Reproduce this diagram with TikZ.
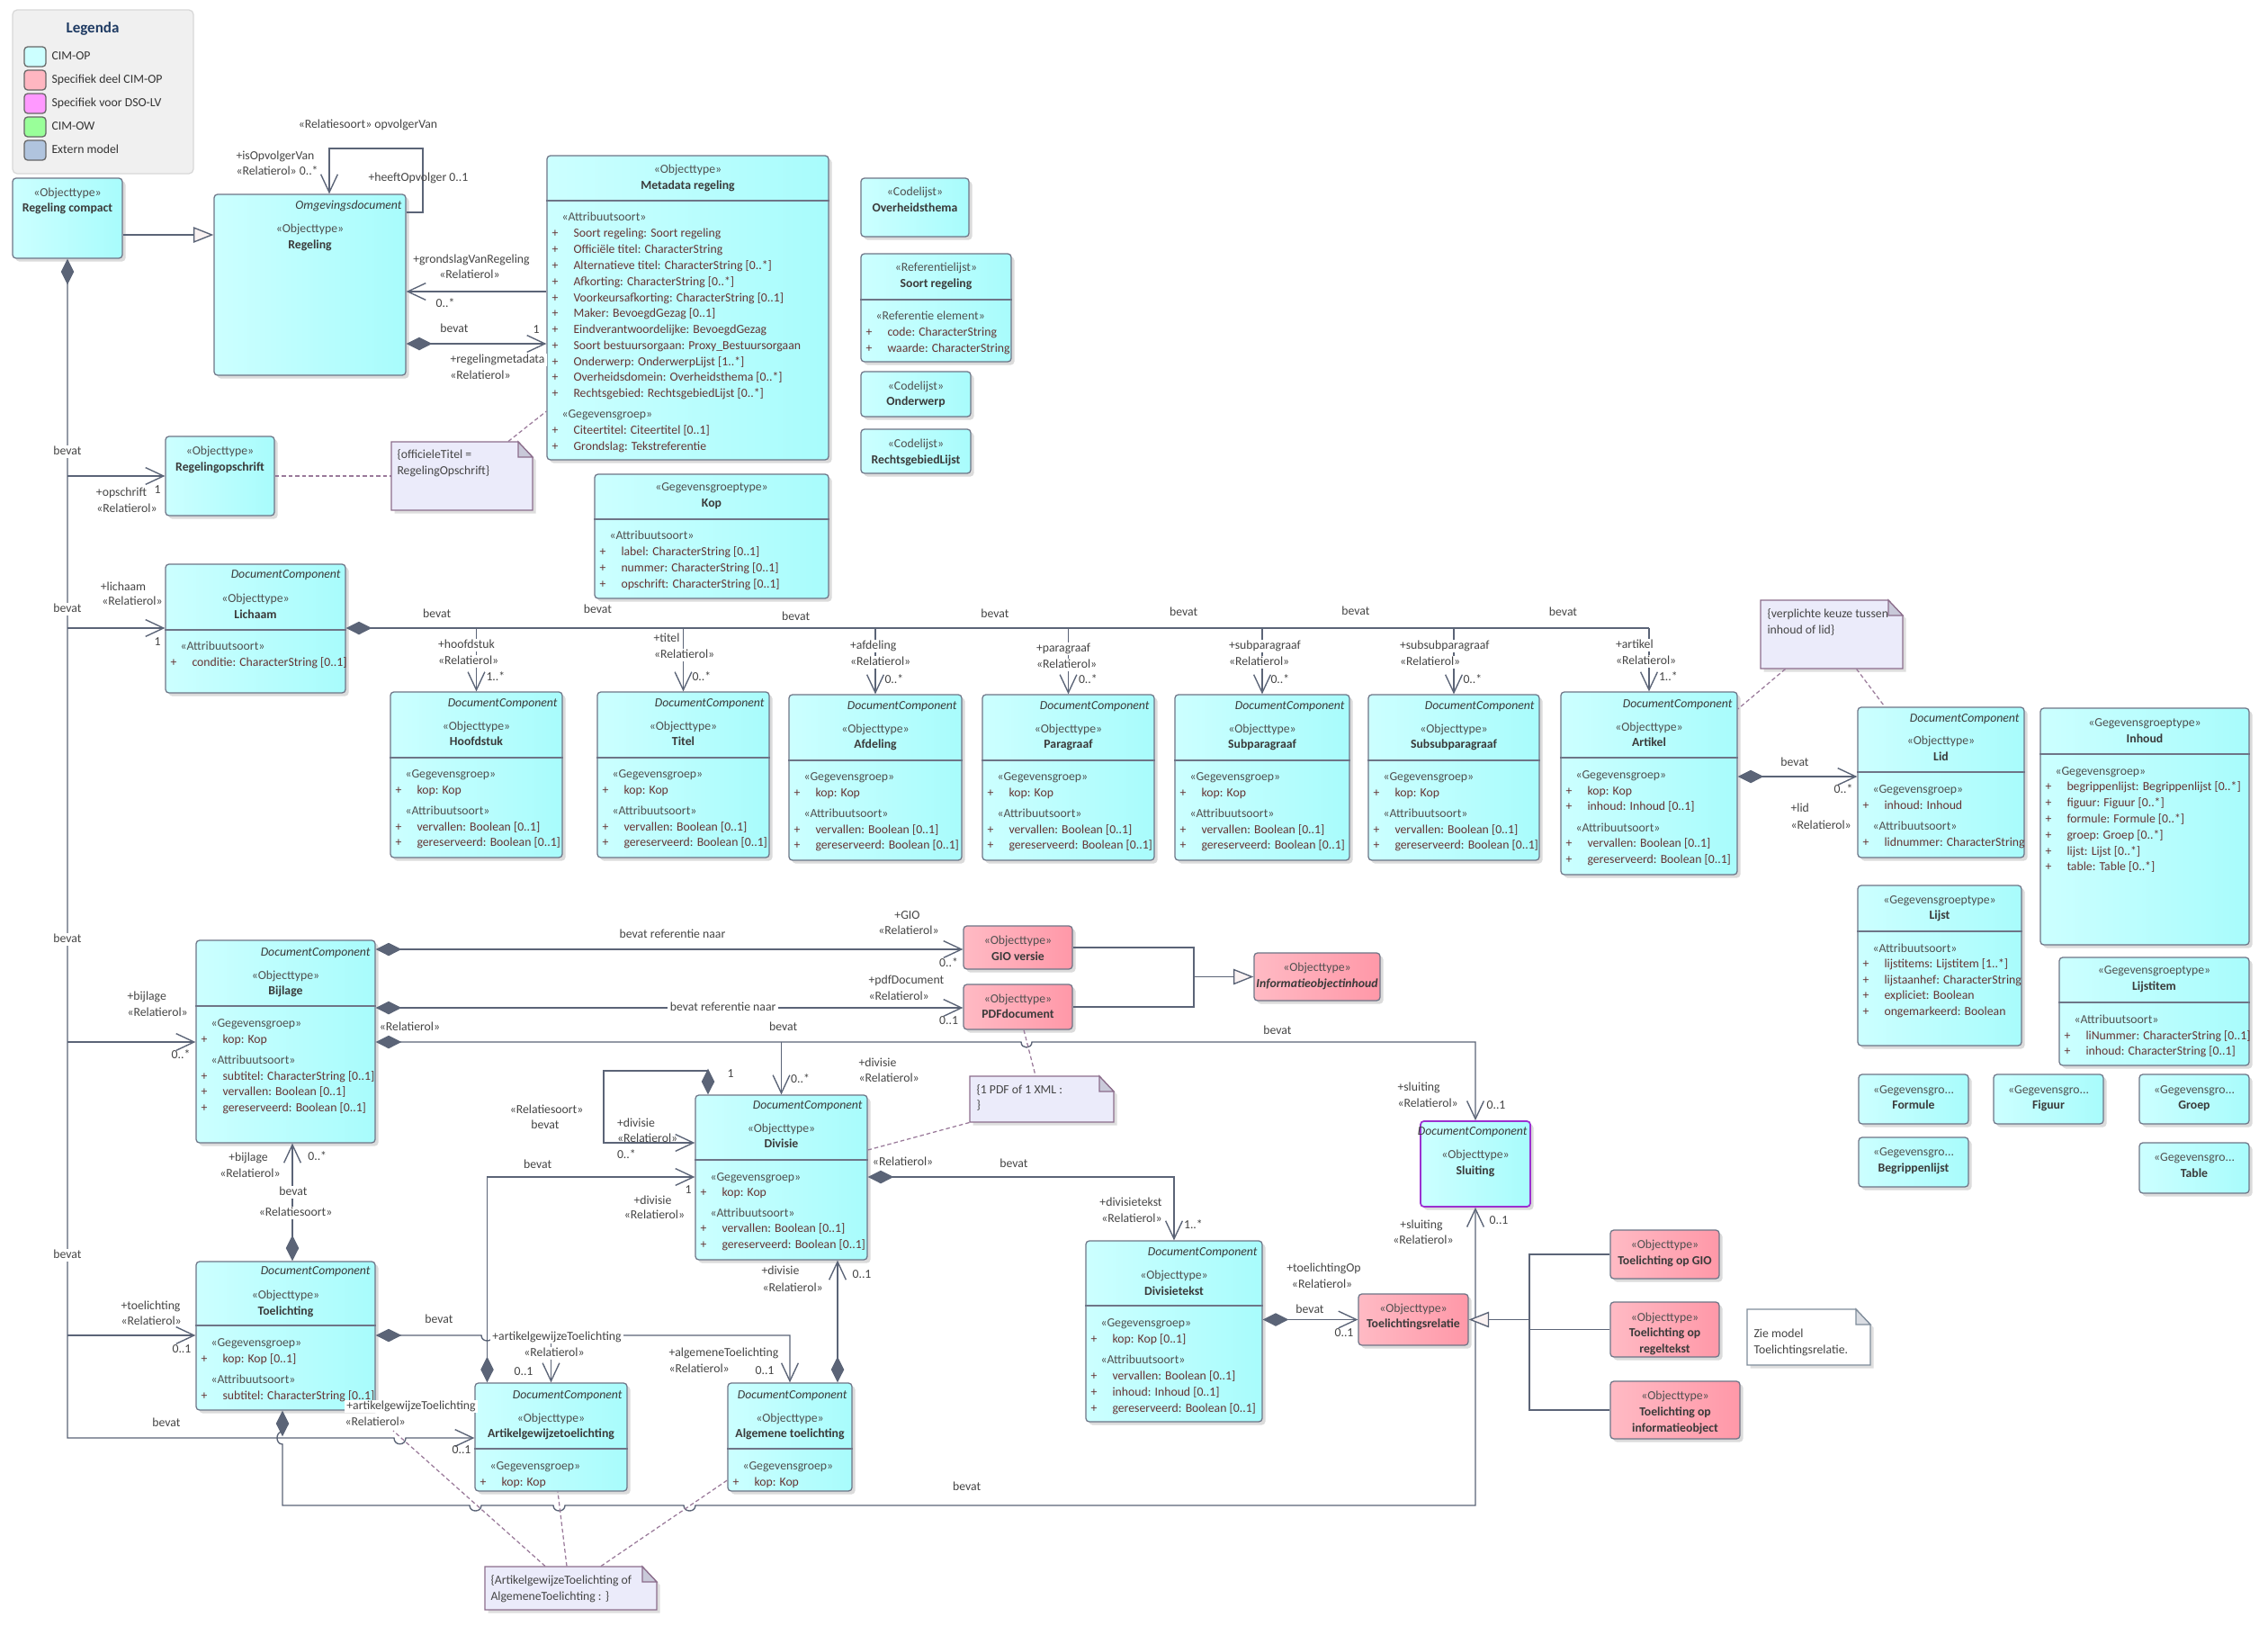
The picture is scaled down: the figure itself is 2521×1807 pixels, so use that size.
\documentclass[tikz,border=0pt]{standalone}
\usepackage{fontspec}
\setmainfont{Carlito}
\usetikzlibrary{arrows.meta,shadows,fit}
\definecolor{lineC}{HTML}{5B6477}
\definecolor{boxB}{HTML}{6E7587}
\definecolor{cyL}{HTML}{CCFFFF}
\definecolor{cyR}{HTML}{A8FCFC}
\definecolor{pkL}{HTML}{FFBAC4}
\definecolor{pkR}{HTML}{FF98A8}
\definecolor{noteF}{HTML}{EBEBFA}
\definecolor{noteB}{HTML}{8C6E8C}
\definecolor{foldF}{HTML}{C9C9D9}
\definecolor{dashC}{HTML}{9A7A9A}
\definecolor{attrC}{HTML}{663333}
\definecolor{stC}{HTML}{505050}
\definecolor{nmC}{HTML}{3A3A3A}
\definecolor{labC}{HTML}{454545}
\definecolor{genF}{HTML}{FAF2F2}
\definecolor{legF}{HTML}{F0F0F0}
\definecolor{legB}{HTML}{D8D8D8}
\definecolor{legT}{HTML}{1F3B63}
\definecolor{sluB}{HTML}{9B30D0}
\definecolor{swA}{HTML}{CCFFFF}
\definecolor{swB}{HTML}{FFB6C1}
\definecolor{swC}{HTML}{FF99FF}
\definecolor{swD}{HTML}{99FF99}
\definecolor{swE}{HTML}{B0C4DE}
\definecolor{n5B}{HTML}{7F8C9A}
\definecolor{n5F}{HTML}{DADDE3}

\newcommand\fs{\fontsize{5.5pt}{7pt}\selectfont}
\newcounter{tn}
\newcommand\lbl[3][]{\stepcounter{tn}\node[lab,#1] (t\arabic{tn}) at (#2) {#3};}
\newcommand\stereo[2]{\lbl[stc]{#1}{«#2»}}
\newcommand\cname[2]{\lbl[nmc]{#1}{#2}}
\newcommand\comph[3]{\lbl[stc,anchor=west]{#1+16,#2}{«#3»}}
\newcommand\attr[3]{\lbl[atc]{#1+9,#2}{+}\lbl[atc,anchor=west]{#1+29,#2}{#3}}
\newcommand\ubox[6]{\node[#6,fit={(#2,#3) (#4,#5)}] (#1) {};}
\newcommand\sepl[2]{\draw[sepline] (#1.west |- 0,#2) -- (#1.east |- 0,#2);}
\newcommand\dcstd[5]{%
 \ubox{#1}{#2}{#3}{#4}{#3+184}{cbox}%
 \sepl{#1}{#3+73}%
 \lbl[dcs]{#4-5,#3+13}{DocumentComponent}%
 \stereo{#2/2+#4/2,#3+39}{Objecttype}%
 \cname{#2/2+#4/2,#3+56}{#5}%
 \comph{#2}{#3+92}{Gegevensgroep}%
 \attr{#2}{#3+110}{kop: Kop}%
 \comph{#2}{#3+133}{Attribuutsoort}%
 \attr{#2}{#3+151}{vervallen: Boolean [0..1]}%
 \attr{#2}{#3+168}{gereserveerd: Boolean [0..1]}}
\newcommand\notebox[8]{%
 \fill[black!13,xshift=1.4pt,yshift=-1.4pt] (#2,#3) -- (#4-16,#3) -- (#4,#3+17) -- (#4,#5) -- (#2,#5) -- cycle;
 \filldraw[fill=#6,draw=#7,line width=0.5pt] (#2,#3) -- (#4-16,#3) -- (#4,#3+17) -- (#4,#5) -- (#2,#5) -- cycle;
 \filldraw[fill=#8,draw=#7,line width=0.5pt] (#4-16,#3) -- (#4-16,#3+17) -- (#4,#3+17) -- cycle;
 \node[fit={(#2,#3) (#4,#5)},inner sep=0pt] (#1) {};}

\tikzset{
 every node/.style={font=\fs, inner sep=0pt, text height=3.9pt, text depth=1.1pt},
 lab/.style={text=labC},
 stc/.style={text=stC},
 nmc/.style={text=nmC, font=\fs\bfseries},
 dcs/.style={text=nmC, font=\fs\itshape, anchor=east},
 atc/.style={text=attrC},
 wbg/.style={fill=white, inner xsep=1pt, inner ysep=0.3pt},
 cbox/.style={draw=boxB, line width=0.5pt, rounded corners=1.5pt, left color=cyL, right color=cyR, inner sep=0pt,
   drop shadow={fill=black!14, opacity=1, shadow xshift=1.4pt, shadow yshift=-1.4pt}},
 pbox/.style={cbox, left color=pkL, right color=pkR},
 swatch/.style={draw=black!60, line width=0.5pt, rounded corners=1.5pt, inner sep=0pt},
 sepline/.style={draw=boxB, line width=0.5pt},
 conn/.style={draw=lineC, line width=0.55pt},
 nl/.style={draw=dashC, line width=0.5pt, dash pattern=on 1.8pt off 1.2pt},
 tdia/.tip={Diamond[length=11.5pt,width=5.8pt]},
 tbarb/.tip={Straight Barb[length=8pt,width=7.5pt]},
 tgen/.tip={Triangle[length=9pt,width=7pt,fill=genF]},
}

\begin{document}
\begin{tikzpicture}[x=0.4pt,y=-0.4pt]
\useasboundingbox (0,0) rectangle (2521,1807);
\fill[white] (0,0) rectangle (2521,1807);

% ---------------- Legend
\node[draw=legB, fill=legF, rounded corners=2pt, line width=0.5pt, inner sep=0pt, fit={(14,11) (215,193)}] (legend) {};
\node[font=\fontsize{6.8pt}{8pt}\selectfont\bfseries, text=legT] (legtitle) at (103,33) {Legenda};
\node[swatch, fill=swA, fit={(27,52) (51,74)}] (sw1) {};
\node[swatch, fill=swB, fit={(27,78) (51,100)}] (sw2) {};
\node[swatch, fill=swC, fit={(27,104) (51,126)}] (sw3) {};
\node[swatch, fill=swD, fit={(27,130) (51,152)}] (sw4) {};
\node[swatch, fill=swE, fit={(27,156) (51,178)}] (sw5) {};
\lbl[anchor=west,text=black!80]{57,63}{CIM-OP}
\lbl[anchor=west,text=black!80]{57,89}{Specifiek deel CIM-OP}
\lbl[anchor=west,text=black!80]{57,115}{Specifiek voor DSO-LV}
\lbl[anchor=west,text=black!80]{57,141}{CIM-OW}
\lbl[anchor=west,text=black!80]{57,167}{Extern model}

% ---------------- Boxes
\ubox{rc}{14}{198}{136}{287}{cbox}
\stereo{75,215}{Objecttype}
\cname{75,232}{Regeling compact}

\ubox{reg}{238}{216}{451}{417}{cbox}
\lbl[dcs]{447,229}{Omgevingsdocument}
\stereo{344.5,255}{Objecttype}
\cname{344.5,273}{Regeling}

\ubox{meta}{608}{173}{921}{511}{cbox}
\stereo{764.5,189}{Objecttype}
\cname{764.5,207}{Metadata regeling}
\sepl{meta}{223}
\comph{608}{242}{Attribuutsoort}
\attr{608}{260}{Soort regeling: Soort regeling}
\attr{608}{278}{Officiële titel: CharacterString}
\attr{608}{296}{Alternatieve titel: CharacterString [0..*]}
\attr{608}{314}{Afkorting: CharacterString [0..*]}
\attr{608}{332}{Voorkeursafkorting: CharacterString [0..1]}
\attr{608}{349}{Maker: BevoegdGezag [0..1]}
\attr{608}{367}{Eindverantwoordelijke: BevoegdGezag}
\attr{608}{385}{Soort bestuursorgaan: Proxy\_Bestuursorgaan}
\attr{608}{403}{Onderwerp: OnderwerpLijst [1..*]}
\attr{608}{420}{Overheidsdomein: Overheidsthema [0..*]}
\attr{608}{438}{Rechtsgebied: RechtsgebiedLijst [0..*]}
\comph{608}{461}{Gegevensgroep}
\attr{608}{479}{Citeertitel: Citeertitel [0..1]}
\attr{608}{497}{Grondslag: Tekstreferentie}

\ubox{kop}{661}{527}{921}{665}{cbox}
\stereo{791,542}{Gegevensgroeptype}
\cname{791,560}{Kop}
\sepl{kop}{577}
\comph{661}{596}{Attribuutsoort}
\attr{661}{614}{label: CharacterString [0..1]}
\attr{661}{632}{nummer: CharacterString [0..1]}
\attr{661}{650}{opschrift: CharacterString [0..1]}

\ubox{oth}{957}{198}{1077}{263}{cbox}
\stereo{1017,214}{Codelijst}
\cname{1017,232}{Overheidsthema}

\ubox{sreg}{957}{282}{1124}{402}{cbox}
\stereo{1040.5,298}{Referentielijst}
\cname{1040.5,316}{Soort regeling}
\sepl{sreg}{333}
\comph{957}{352}{Referentie element}
\attr{957}{370}{code: CharacterString}
\attr{957}{388}{waarde: CharacterString}

\ubox{ondw}{957}{413}{1079}{463}{cbox}
\stereo{1018,430}{Codelijst}
\cname{1018,447}{Onderwerp}

\ubox{rgl}{957}{477}{1079}{526}{cbox}
\stereo{1018,494}{Codelijst}
\cname{1018,512}{RechtsgebiedLijst}

\ubox{ropschr}{184}{485}{305}{573}{cbox}
\stereo{244.5,502}{Objecttype}
\cname{244.5,520}{Regelingopschrift}

\ubox{lich}{184}{627}{384}{770}{cbox}
\lbl[dcs]{379,639}{DocumentComponent}
\stereo{284,666}{Objecttype}
\cname{284,684}{Lichaam}
\sepl{lich}{700}
\comph{184}{719}{Attribuutsoort}
\attr{184}{737}{conditie: CharacterString [0..1]}

\dcstd{hfd}{434}{769}{625}{Hoofdstuk}
\dcstd{titel}{664}{769}{855}{Titel}
\dcstd{afd}{877}{772}{1069}{Afdeling}
\dcstd{par}{1092}{772}{1283}{Paragraaf}
\dcstd{spar}{1306}{772}{1500}{Subparagraaf}
\dcstd{sspar}{1521}{772}{1711}{Subsubparagraaf}

\ubox{art}{1735}{769}{1931}{972}{cbox}
\sepl{art}{842}
\lbl[dcs]{1926,783}{DocumentComponent}
\stereo{1833,809}{Objecttype}
\cname{1833,826}{Artikel}
\comph{1735}{862}{Gegevensgroep}
\attr{1735}{880}{kop: Kop}
\attr{1735}{897}{inhoud: Inhoud [0..1]}
\comph{1735}{921}{Attribuutsoort}
\attr{1735}{938}{vervallen: Boolean [0..1]}
\attr{1735}{956}{gereserveerd: Boolean [0..1]}

\ubox{lid}{2065}{786}{2250}{953}{cbox}
\sepl{lid}{858}
\lbl[dcs]{2245,799}{DocumentComponent}
\stereo{2157.5,824}{Objecttype}
\cname{2157.5,842}{Lid}
\comph{2065}{878}{Gegevensgroep}
\attr{2065}{896}{inhoud: Inhoud}
\comph{2065}{919}{Attribuutsoort}
\attr{2065}{937}{lidnummer: CharacterString}

\ubox{inh}{2268}{787}{2500}{1050}{cbox}
\stereo{2384,804}{Gegevensgroeptype}
\cname{2384,822}{Inhoud}
\sepl{inh}{838}
\comph{2268}{858}{Gegevensgroep}
\attr{2268}{875}{begrippenlijst: Begrippenlijst [0..*]}
\attr{2268}{893}{figuur: Figuur [0..*]}
\attr{2268}{911}{formule: Formule [0..*]}
\attr{2268}{929}{groep: Groep [0..*]}
\attr{2268}{947}{lijst: Lijst [0..*]}
\attr{2268}{964}{table: Table [0..*]}

\ubox{lijst}{2065}{984}{2247}{1162}{cbox}
\stereo{2156,1001}{Gegevensgroeptype}
\cname{2156,1018}{Lijst}
\sepl{lijst}{1035}
\comph{2065}{1055}{Attribuutsoort}
\attr{2065}{1072}{lijstitems: Lijstitem [1..*]}
\attr{2065}{1090}{lijstaanhef: CharacterString}
\attr{2065}{1107}{expliciet: Boolean}
\attr{2065}{1125}{ongemarkeerd: Boolean}

\ubox{litem}{2289}{1064}{2500}{1184}{cbox}
\stereo{2394.5,1079}{Gegevensgroeptype}
\cname{2394.5,1097}{Lijstitem}
\sepl{litem}{1114}
\comph{2289}{1134}{Attribuutsoort}
\attr{2289}{1152}{liNummer: CharacterString [0..1]}
\attr{2289}{1169}{inhoud: CharacterString [0..1]}

\ubox{formule}{2066}{1194}{2188}{1249}{cbox}
\lbl[stc]{2127,1212}{«Gegevensgro...}
\cname{2127,1229}{Formule}
\ubox{figuur}{2216}{1194}{2338}{1249}{cbox}
\lbl[stc]{2277,1212}{«Gegevensgro...}
\cname{2277,1229}{Figuur}
\ubox{groep}{2378}{1194}{2500}{1249}{cbox}
\lbl[stc]{2439,1212}{«Gegevensgro...}
\cname{2439,1229}{Groep}
\ubox{begr}{2066}{1264}{2188}{1319}{cbox}
\lbl[stc]{2127,1281}{«Gegevensgro...}
\cname{2127,1299}{Begrippenlijst}
\ubox{table}{2378}{1270}{2500}{1326}{cbox}
\lbl[stc]{2439,1287}{«Gegevensgro...}
\cname{2439,1305}{Table}

\ubox{bijl}{218}{1045}{417}{1270}{cbox}
\sepl{bijl}{1118}
\lbl[dcs]{412,1059}{DocumentComponent}
\stereo{317.5,1085}{Objecttype}
\cname{317.5,1102}{Bijlage}
\comph{218}{1138}{Gegevensgroep}
\attr{218}{1156}{kop: Kop}
\comph{218}{1179}{Attribuutsoort}
\attr{218}{1197}{subtitel: CharacterString [0..1]}
\attr{218}{1214}{vervallen: Boolean [0..1]}
\attr{218}{1232}{gereserveerd: Boolean [0..1]}

\ubox{gio}{1071}{1029}{1192}{1077}{pbox}
\stereo{1131.5,1046}{Objecttype}
\cname{1131.5,1064}{GIO versie}
\ubox{pdf}{1071}{1094}{1192}{1144}{pbox}
\stereo{1131.5,1111}{Objecttype}
\cname{1131.5,1128}{PDFdocument}
\ubox{ioi}{1394}{1059}{1534}{1112}{pbox}
\stereo{1464,1076}{Objecttype}
\lbl[nmc,font=\fs\bfseries\itshape]{1464,1094}{Informatieobjectinhoud}

\ubox{div}{773}{1217}{964}{1400}{cbox}
\sepl{div}{1289}
\lbl[dcs]{959,1229}{DocumentComponent}
\stereo{868.5,1255}{Objecttype}
\cname{868.5,1272}{Divisie}
\comph{773}{1309}{Gegevensgroep}
\attr{773}{1326}{kop: Kop}
\comph{773}{1349}{Attribuutsoort}
\attr{773}{1366}{vervallen: Boolean [0..1]}
\attr{773}{1384}{gereserveerd: Boolean [0..1]}

\ubox{sluit}{1579}{1246}{1701}{1341}{cbox,draw=sluB,line width=0.7pt}
\lbl[dcs]{1698,1258}{DocumentComponent}
\stereo{1640,1284}{Objecttype}
\cname{1640,1302}{Sluiting}

\ubox{divt}{1207}{1379}{1403}{1580}{cbox}
\sepl{divt}{1451}
\lbl[dcs]{1398,1392}{DocumentComponent}
\stereo{1305,1418}{Objecttype}
\cname{1305,1436}{Divisietekst}
\comph{1207}{1471}{Gegevensgroep}
\attr{1207}{1489}{kop: Kop [0..1]}
\comph{1207}{1512}{Attribuutsoort}
\attr{1207}{1530}{vervallen: Boolean [0..1]}
\attr{1207}{1548}{inhoud: Inhoud [0..1]}
\attr{1207}{1566}{gereserveerd: Boolean [0..1]}

\ubox{toel}{218}{1402}{417}{1567}{cbox}
\sepl{toel}{1473}
\lbl[dcs]{412,1413}{DocumentComponent}
\stereo{317.5,1440}{Objecttype}
\cname{317.5,1458}{Toelichting}
\comph{218}{1493}{Gegevensgroep}
\attr{218}{1511}{kop: Kop [0..1]}
\comph{218}{1534}{Attribuutsoort}
\attr{218}{1552}{subtitel: CharacterString [0..1]}

\ubox{artt}{528}{1537}{697}{1657}{cbox}
\sepl{artt}{1610}
\lbl[dcs]{692,1551}{DocumentComponent}
\stereo{612.5,1577}{Objecttype}
\cname{612.5,1594}{Artikelgewijzetoelichting}
\comph{528}{1630}{Gegevensgroep}
\attr{528}{1648}{kop: Kop}

\ubox{algt}{809}{1537}{947}{1657}{cbox}
\sepl{algt}{1610}
\lbl[dcs]{942,1551}{DocumentComponent}
\stereo{878,1577}{Objecttype}
\cname{878,1594}{Algemene toelichting}
\comph{809}{1630}{Gegevensgroep}
\attr{809}{1648}{kop: Kop}

\ubox{trel}{1510}{1438}{1632}{1495}{pbox}
\stereo{1571,1455}{Objecttype}
\cname{1571,1472}{Toelichtingsrelatie}
\ubox{tgio}{1790}{1367}{1911}{1421}{pbox}
\stereo{1850.5,1384}{Objecttype}
\cname{1850.5,1402}{Toelichting op GIO}
\ubox{treg}{1790}{1447}{1911}{1508}{pbox}
\stereo{1850.5,1465}{Objecttype}
\cname{1850.5,1482}{Toelichting op}
\cname{1850.5,1500}{regeltekst}
\ubox{tio}{1790}{1535}{1934}{1599}{pbox}
\stereo{1862,1552}{Objecttype}
\cname{1862,1570}{Toelichting op}
\cname{1862,1588}{informatieobject}

% ---------------- Notes
\notebox{note1}{435}{491}{592}{567}{noteF}{noteB}{foldF}
\lbl[anchor=west]{441,506}{\{officieleTitel =}
\lbl[anchor=west]{441,524}{RegelingOpschrift\}}
\notebox{note2}{1957}{667}{2115}{743}{noteF}{noteB}{foldF}
\lbl[anchor=west]{1964,683}{\{verplichte keuze tussen}
\lbl[anchor=west]{1964,701}{inhoud of lid\}}
\notebox{note3}{1078}{1196}{1238}{1247}{noteF}{noteB}{foldF}
\lbl[anchor=west]{1085,1212}{\{1 PDF of 1 XML :}
\lbl[anchor=west]{1085,1229}{\}}
\notebox{note4}{539}{1741}{730}{1789}{noteF}{noteB}{foldF}
\lbl[anchor=west]{545,1757}{\{ArtikelgewijzeToelichting of}
\lbl[anchor=west]{545,1775}{AlgemeneToelichting : \}}
\notebox{note5}{1942}{1455}{2079}{1517}{white}{n5B}{n5F}
\lbl[anchor=west]{1949,1483}{Zie model}
\lbl[anchor=west]{1949,1501}{Toelichtingsrelatie.}

% ---------------- Connectors
\draw[conn,-{tgen}] (rc.east |- 0,261) -- (reg.west |- 0,261);
\draw[conn,-{tbarb}] (reg.east |- 0,236) -- (470,236) -- (470,165) -- (366,165) -- (reg.north -| 366,0);
\draw[conn,-{tbarb}] (meta.west |- 0,324) -- (reg.east |- 0,324);
\draw[conn,{tdia}-{tbarb}] (reg.east |- 0,382) -- (meta.west |- 0,382);

% trunk from Regeling compact
\draw[conn,{tdia}-{tbarb}] (rc.south) -- (rc.south |- 0,1598) -- (438,1598)
  .. controls (438,1607) and (451,1607) .. (451,1598) -- (artt.west |- 0,1598);
\coordinate (j1) at (rc.south |- 0,529);
\coordinate (j2) at (rc.south |- 0,698);
\coordinate (j3) at (rc.south |- 0,1158);
\coordinate (j4) at (rc.south |- 0,1484);
\draw[conn,-{tbarb}] (j1) -- (ropschr.west |- j1);
\draw[conn,-{tbarb}] (j2) -- (lich.west |- j2);
\draw[conn,-{tbarb}] (j3) -- (bijl.west |- j3);
\draw[conn,-{tbarb}] (j4) -- (toel.west |- j4);

% Lichaam bevat ...
\draw[conn,{tdia}-] (lich.east |- 0,698) -- (art.north |- 0,698);
\foreach \b in {hfd,titel,afd,par,spar,sspar,art}
  \draw[conn,-{tbarb}] (\b.north |- 0,698) -- (\b.north);
\draw[conn,{tdia}-{tbarb}] (art.east |- 0,863) -- (lid.west |- 0,863);

% Bijlage
\draw[conn,{tdia}-{tbarb}] (bijl.east |- 0,1055) -- (gio.west |- 0,1055);
\draw[conn,{tdia}-{tbarb}] (bijl.east |- 0,1120) -- (pdf.west |- 0,1120);
\draw[conn,{tdia}-{tbarb}] (bijl.east |- 0,1158) -- (1135,1158)
  .. controls (1135,1166) and (1147,1166) .. (1147,1158) -- (sluit.north |- 0,1158) -- (sluit.north);
\draw[conn,-{tbarb}] (div.north |- 0,1158) -- (div.north);
\draw[conn] (gio.east) -- (gio.east -| 1327,0) -- (pdf.east -| 1327,0) -- (pdf.east);
\draw[conn,-{tgen}] (ioi.west -| 1327,0) -- (ioi.west);

% Divisie
\draw[conn,{tdia}-{tbarb}] (div.north -| 787,0) -- (787,1190) -- (671,1190) -- (671,1270) -- (div.west |- 0,1270);
\draw[conn,{tdia}-{tbarb}] (artt.north -| 541.5,0) -- (541.5,1308) -- (div.west |- 0,1308);
\draw[conn,{tdia}-{tbarb}] (div.east |- 0,1308) -- (divt.north |- 0,1308) -- (divt.north);
\draw[conn,{tdia}-{tbarb}] (algt.north -| 931,0) -- (div.south -| 931,0);

% Toelichting
\draw[conn,{tdia}-{tbarb}] (toel.north -| 325,0) -- (bijl.south -| 325,0);
\draw[conn,{tdia}-{tbarb}] (toel.east |- 0,1484) -- (535,1484)
  .. controls (535,1492) and (548,1492) .. (548,1484) -- (algt.north |- 0,1484) -- (algt.north);
\draw[conn,-{tbarb}] (artt.north |- 0,1484) -- (artt.north);
\draw[conn,{tdia}-{tbarb}] (toel.south -| 314,0) -- (314,1591)
  .. controls (306,1591) and (306,1605) .. (314,1605) -- (314,1673) -- (522,1673)
  .. controls (522,1681) and (535,1681) .. (535,1673) -- (615,1673)
  .. controls (615,1681) and (628,1681) .. (628,1673) -- (760,1673)
  .. controls (760,1681) and (773,1681) .. (773,1673) -- (sluit.south |- 0,1673) -- (sluit.south);

% Toelichtingsrelatie
\draw[conn,{tdia}-{tbarb}] (divt.east |- trel.west) -- (trel.west);
\draw[conn,-{tgen}] (trel.east -| 1700,0) -- (trel.east);
\draw[conn] (tgio.west) -- (tgio.west -| 1700,0) -- (tio.west -| 1700,0) -- (tio.west);
\draw[conn] (treg.west -| 1700,0) -- (treg.west);

% note links
\draw[nl] (ropschr.east |- note1.west) -- (note1.west);
\draw[nl] (note1.north -| 565,0) -- (meta.west |- 0,457);
\draw[nl] (note2.south -| 1984.5,0) -- (art.east |- 0,788);
\draw[nl] (note2.south -| 2063.6,0) -- (lid.north -| 2095,0);
\draw[nl] (pdf.south -| 1138,0) -- (note3.north -| 1151,0);
\draw[nl] (note3.south west) -- (div.east |- 0,1278);
\coordinate (atl) at (437,1590);
\draw[nl] (note4.north -| 606,0) -- (atl);
\draw[nl] (note4.north -| 630,0) -- (artt.south -| 620,0);
\draw[nl] (note4.north -| 668,0) -- (algt.west |- 0,1645);

% ---------------- Connector labels
\lbl{409,139}{«Relatiesoort» opvolgerVan}
\lbl[anchor=west]{262,174}{+isOpvolgerVan}
\lbl[anchor=west]{262,191}{«Relatierol» 0..*}
\lbl[anchor=west]{409,198}{+heeftOpvolger 0..1}
\lbl{524,289}{+grondslagVanRegeling}
\lbl{522,306}{«Relatierol»}
\lbl{495,338}{0..*}
\lbl{505,366}{bevat}
\lbl{596,367}{1}
\lbl[wbg]{553,400}{+regelingmetadata}
\lbl{534,418}{«Relatierol»}

\lbl[wbg]{75,502}{bevat}
\lbl[wbg]{75,677}{bevat}
\lbl[wbg]{75,1044}{bevat}
\lbl[wbg]{75,1395}{bevat}
\lbl{135,548}{+opschrift}
\lbl{141,566}{«Relatierol»}
\lbl{175,545}{1}
\lbl{137,653}{+lichaam}
\lbl{147,669}{«Relatierol»}
\lbl{175,714}{1}

\lbl{485.6,683}{bevat}
\lbl{664.5,678}{bevat}
\lbl{884.6,686}{bevat}
\lbl{1106,683}{bevat}
\lbl{1315.6,681}{bevat}
\lbl{1507,680}{bevat}
\lbl{1737.5,681}{bevat}

\lbl[anchor=west,wbg]{484,717}{+hoofdstuk}
\lbl[anchor=west,wbg]{484,735}{«Relatierol»}
\lbl[anchor=west]{540,753}{1..*}
\lbl[anchor=west,wbg]{723.5,710}{+titel}
\lbl[anchor=west,wbg]{724,728}{«Relatierol»}
\lbl[anchor=west]{769,753}{0..*}
\lbl[anchor=west,wbg]{942,718}{+afdeling}
\lbl[anchor=west,wbg]{942,736}{«Relatierol»}
\lbl[anchor=west]{983,756}{0..*}
\lbl[anchor=west,wbg]{1149,721}{+paragraaf}
\lbl[anchor=west,wbg]{1149,739}{«Relatierol»}
\lbl[anchor=west]{1198.5,756}{0..*}
\lbl[anchor=west,wbg]{1363,718}{+subparagraaf}
\lbl[anchor=west,wbg]{1363,736}{«Relatierol»}
\lbl[anchor=west]{1412,756}{0..*}
\lbl[anchor=west,wbg]{1553,718}{+subsubparagraaf}
\lbl[anchor=west,wbg]{1553,736}{«Relatierol»}
\lbl[anchor=west]{1626,756}{0..*}
\lbl[anchor=west,wbg]{1793,717}{+artikel}
\lbl[anchor=west,wbg]{1793,735}{«Relatierol»}
\lbl[anchor=west]{1843.5,753}{1..*}

\lbl{1995,848}{bevat}
\lbl{2049,878}{0..*}
\lbl[anchor=west]{1990,899}{+lid}
\lbl[anchor=west]{1990,918}{«Relatierol»}

\lbl{747.5,1039}{bevat referentie naar}
\lbl[wbg]{803.6,1120}{bevat referentie naar}
\lbl{455.5,1142}{«Relatierol»}
\lbl{870.6,1142}{bevat}
\lbl[anchor=west]{141,1108}{+bijlage}
\lbl[anchor=west]{141,1126}{«Relatierol»}
\lbl{201,1173}{0..*}
\lbl{1008.5,1018}{+GIO}
\lbl{1010,1035}{«Relatierol»}
\lbl{1054.6,1071}{0..*}
\lbl[anchor=west]{965,1090}{+pdfDocument}
\lbl[anchor=west]{965,1108}{«Relatierol»}
\lbl{1054.6,1135}{0..1}
\lbl{1420,1146}{bevat}
\lbl[anchor=west]{1553,1209}{+sluiting}
\lbl[anchor=west]{1553,1227}{«Relatierol»}
\lbl{1663,1229}{0..1}

\lbl{889.5,1200}{0..*}
\lbl[anchor=west]{954,1182}{+divisie}
\lbl[anchor=west]{954,1199}{«Relatierol»}
\lbl{812,1194}{1}
\lbl{607.6,1234}{«Relatiesoort»}
\lbl{606,1251}{bevat}
\lbl[anchor=west]{685.5,1249}{+divisie}
\lbl[anchor=west]{685.5,1266}{«Relatierol»}
\lbl[anchor=west]{685.5,1284}{0..*}
\lbl{597.7,1295}{bevat}
\lbl{765,1323}{1}
\lbl{725.5,1335}{+divisie}
\lbl{727.5,1351}{«Relatierol»}
\lbl{1003.6,1292}{«Relatierol»}
\lbl{1127,1294}{bevat}
\lbl{1257,1337}{+divisietekst}
\lbl{1258,1355}{«Relatierol»}
\lbl{1326.4,1362}{1..*}
\lbl[anchor=west]{846,1413}{+divisie}
\lbl[anchor=west]{847,1432}{«Relatierol»}
\lbl{958,1417}{0..1}

\lbl{276,1287}{+bijlage}
\lbl{278,1305}{«Relatierol»}
\lbl{352.7,1286}{0..*}
\lbl[wbg]{326,1325}{bevat}
\lbl[wbg]{328.6,1348}{«Relatiesoort»}

\lbl[anchor=west]{134,1452}{+toelichting}
\lbl[anchor=west]{134,1469}{«Relatierol»}
\lbl{202,1500}{0..1}
\lbl{488,1467}{bevat}
\lbl[wbg]{619,1486}{+artikelgewijzeToelichting}
\lbl[wbg]{616,1504}{«Relatierol»}
\lbl{582,1525}{0..1}
\lbl[anchor=west]{743,1504}{+algemeneToelichting}
\lbl[anchor=west]{743,1522}{«Relatierol»}
\lbl{850,1524}{0..1}
\lbl{185,1582}{bevat}
\lbl[wbg]{457,1563}{+artikelgewijzeToelichting}
\lbl[anchor=west]{383,1581}{«Relatierol»}
\lbl{513,1612}{0..1}
\lbl{1074.7,1653}{bevat}
\lbl{1580,1362}{+sluiting}
\lbl{1582,1379}{«Relatierol»}
\lbl{1666,1357}{0..1}

\lbl{1456,1456}{bevat}
\lbl{1494,1482}{0..1}
\lbl{1471.5,1410}{+toelichtingOp}
\lbl{1469.6,1428}{«Relatierol»}
\end{tikzpicture}
\end{document}
